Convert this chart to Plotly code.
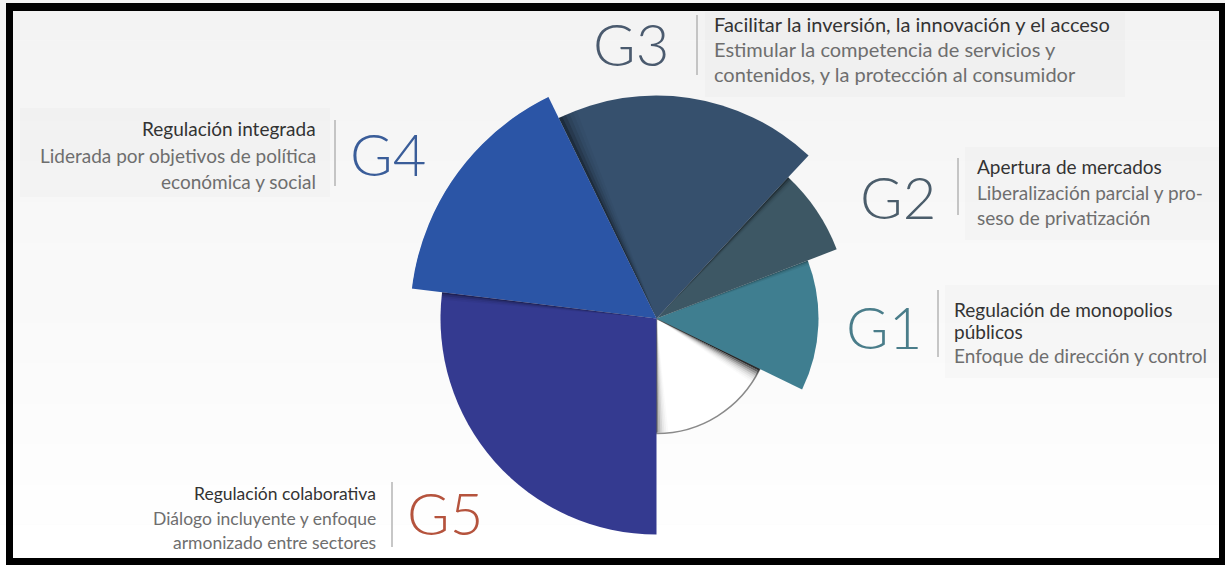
import plotly.graph_objects as go

W, H = 1225, 565

# Sectors, counter-clockwise starting from the south direction
grupos = ["Base", "G1", "G2", "G3", "G4", "G5"]
apertura_grados = [64, 47, 26, 69, 57, 97]
alcance = [115, 162, 193, 223, 247, 216]
colores = ["#ffffff", "#3f7e90", "#3d5764", "#36506d", "#2b55a6", "#343a90"]

etiquetas = ["G1", "G2", "G3", "G4", "G5"]
color_etiqueta = ["#4a7d8a", "#4b5d6b", "#4a5a6e", "#3a5d99", "#b5533d"]
titulos = [
    ["Regulación de monopolios", "públicos"],
    ["Apertura de mercados"],
    ["Facilitar la inversión, la innovación y el acceso"],
    ["Regulación integrada"],
    ["Regulación colaborativa"],
]
descripciones = [
    ["Enfoque de dirección y control"],
    ["Liberalización parcial y pro-", "seso de privatización"],
    ["Estimular la competencia de servicios y", "contenidos, y la protección al consumidor"],
    ["Liderada por objetivos de política", "económica y social"],
    ["Diálogo incluyente y enfoque", "armonizado entre sectores"],
]

# ---- geometry of the polar area (pixels) ----
CX, CY = 656.5, 318.5
R_PX = H - CY  # circle touches the bottom edge

def px(x):
    return x / W

def py(y):
    return 1 - y / H

# angular boundaries
inicio = 270.0
bordes = [inicio]
for a in apertura_grados:
    bordes.append(bordes[-1] + a)
centros = [(bordes[i] + bordes[i + 1]) / 2 for i in range(len(apertura_grados))]

fig = go.Figure()

for i, g in enumerate(grupos):
    linea = dict(color="#8a8a8a", width=1.5) if i == 0 else dict(width=0)
    fig.add_trace(go.Barpolar(
        r=[alcance[i]], theta=[centros[i] % 360], width=[apertura_grados[i]],
        marker=dict(color=colores[i], line=linea),
        name=g, hoverinfo="skip", showlegend=False,
    ))

# soft shadows cast across sector edges
def sombra(borde, sentido, radio, paso, alfas):
    for k, a in enumerate(alfas):
        c = borde + sentido * paso * (k + 0.5)
        fig.add_trace(go.Barpolar(
            r=[radio], theta=[c % 360], width=[paso],
            marker=dict(color=f"rgba(0,0,0,{a})", line=dict(width=0)),
            hoverinfo="skip", showlegend=False,
        ))

sombra(bordes[1], -1, alcance[0], 1.0, [0.8, 0.6, 0.42, 0.28, 0.17, 0.1, 0.05, 0.02])
sombra(bordes[0] + 360, +1, alcance[0] - 1, 1.0, [0.4, 0.26, 0.16, 0.09, 0.05, 0.02])
sombra(bordes[2], -1, alcance[1], 0.5, [0.3, 0.15, 0.06])
sombra(bordes[3], -1, alcance[2], 0.5, [0.45, 0.25, 0.1, 0.04])
sombra(bordes[4], -1, alcance[3], 1.0, [0.45, 0.28, 0.16, 0.08, 0.03])
sombra(bordes[5], +1, alcance[5], 0.5, [0.4, 0.22, 0.1, 0.04])

fig.update_layout(
    width=W, height=H,
    margin=dict(l=0, r=0, t=0, b=0),
    paper_bgcolor="#f8f8f8",
    plot_bgcolor="rgba(0,0,0,0)",
    polar=dict(
        domain=dict(x=[px(CX - R_PX), px(CX + R_PX)], y=[0, 2 * R_PX / H]),
        bgcolor="rgba(0,0,0,0)",
        radialaxis=dict(visible=False, range=[0, R_PX]),
        angularaxis=dict(visible=False, rotation=0, direction="counterclockwise"),
        bargap=0,
    ),
)

shapes = []
# background wash: light grey on top fading to white
n = 14
for k in range(n):
    v = 243 + round(12 * k / (n - 1))
    shapes.append(dict(type="rect", xref="paper", yref="paper", layer="below",
                       x0=0, x1=1, y0=1 - (k + 1) / n, y1=1 - k / n,
                       fillcolor=f"rgb({v},{v},{v})", line=dict(width=0)))

# text panels behind the captions
paneles = [(945, 285, 1222, 378), (965, 147, 1222, 240), (705, 12, 1125, 97),
           (20, 108, 330, 197)]
for x0, y0, x1, y1 in paneles:
    shapes.append(dict(type="rect", xref="paper", yref="paper", layer="below",
                       x0=px(x0), x1=px(x1), y0=py(y1), y1=py(y0),
                       fillcolor="rgba(0,0,0,0.014)", line=dict(width=0)))

# caption layout: label centre, separator x & span, text x, alignment, line ys, font size
disposicion = [
    dict(lab=(884, 326), sep=(938, 290, 357), tx=952, al="left", ys=[309, 331, 355], fs=19),
    dict(lab=(898, 196), sep=(958, 158, 215), tx=975, al="left", ys=[167, 192, 217], fs=19),
    dict(lab=(631, 44), sep=(697, 15, 75), tx=712, al="left", ys=[24, 49, 74], fs=20),
    dict(lab=(388, 153), sep=(335, 120, 186), tx=318, al="right", ys=[129, 155, 181], fs=19),
    dict(lab=(445, 512), sep=(392, 482, 547), tx=378, al="right", ys=[493, 518, 542], fs=17.5),
]

annotations = []
FONT = "Lato"
for i, d in enumerate(disposicion):
    lx, ly = d["lab"]
    annotations.append(dict(x=px(lx), y=py(ly), xref="paper", yref="paper",
                            text=etiquetas[i], showarrow=False,
                            xanchor="center", yanchor="middle",
                            font=dict(family=FONT, size=58, color=color_etiqueta[i], weight=300)))
    sx, s0, s1 = d["sep"]
    shapes.append(dict(type="line", xref="paper", yref="paper",
                       x0=px(sx), x1=px(sx), y0=py(s0), y1=py(s1),
                       line=dict(color="#b4b4b4", width=1.5)))
    lineas = [(t, "#333333") for t in titulos[i]] + [(t, "#6e6e6e") for t in descripciones[i]]
    for (t, c), y in zip(lineas, d["ys"]):
        annotations.append(dict(x=px(d["tx"]), y=py(y), xref="paper", yref="paper",
                                text=t, showarrow=False,
                                xanchor=d["al"], yanchor="middle",
                                font=dict(family=FONT, size=d["fs"], color=c)))

# black frame
marco = "#000000"
shapes += [
    dict(type="rect", xref="paper", yref="paper", x0=px(6), x1=px(13), y0=0, y1=py(3),
         fillcolor=marco, line=dict(width=0)),
    dict(type="rect", xref="paper", yref="paper", x0=px(6), x1=1, y0=py(11), y1=py(3),
         fillcolor=marco, line=dict(width=0)),
    dict(type="rect", xref="paper", yref="paper", x0=px(1219), x1=1, y0=0, y1=py(3),
         fillcolor=marco, line=dict(width=0)),
    dict(type="rect", xref="paper", yref="paper", x0=px(6), x1=1, y0=0, y1=py(558),
         fillcolor=marco, line=dict(width=0)),
]

fig.update_layout(shapes=shapes, annotations=annotations)
fig.write_html("out.html")
